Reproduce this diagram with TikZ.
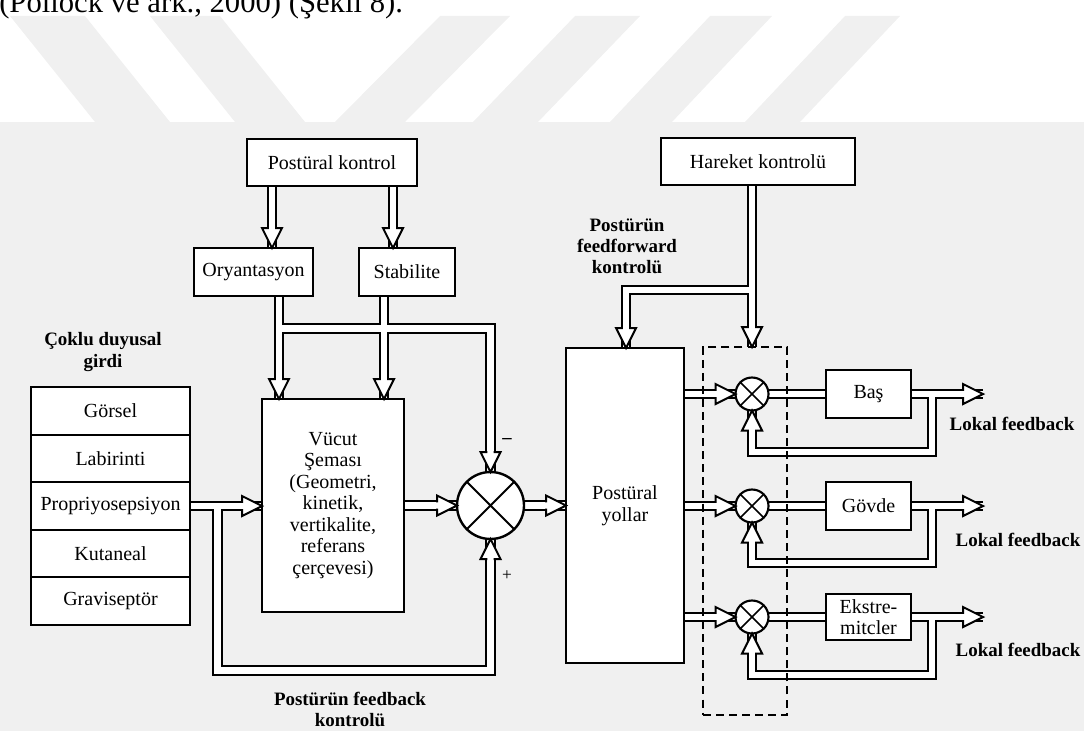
\documentclass[tikz,border=0pt]{standalone}
\usepackage{fontspec}
\setmainfont{Liberation Serif}
\pgfdeclarelayer{bg}
\pgfdeclarelayer{so}
\pgfdeclarelayer{si}
\pgfdeclarelayer{front}
\pgfsetlayers{bg,so,si,main,front}
\newcommand\hhead[2]{\filldraw[headst, shift={#1}, rotate=#2] (-15pt,2.4pt) -- (-15pt,7.5pt) -- (0pt,0pt) -- (-15pt,-7.5pt) -- (-15pt,-2.4pt);}
\newcommand\allshafts{%
  \draw[sh] (xa |- pk.south) -- (xa |- ory.north);
  \draw[sh] (xb |- pk.south) -- (xb |- stab.north);
  \draw[sh] (xc |- ory.south) -- (xc |- vuc.north);
  \draw[sh] (xd |- stab.south) -- (xd |- vuc.north);
  \draw[sh] (xc |- ybus) -- (cmp.center |- ybus) -- (cmp.north);
  \draw[sh] (vuc.east) -- (cmp.west);
  \draw[sh] (cmp.east) -- (cmp.east -| yol.west);
  \draw[sh] (prop.east) -- (prop.east -| vuc.west);
  \draw[sh] (xfb |- prop.east) -- (xfb |- yfb) -- (cmp.center |- yfb) -- (cmp.south);
  \draw[sh] (xhk |- hk.south) -- (xhk |- dbox.north);
  \draw[sh] (xhk |- yhk) -- (xyl |- yhk) -- (xyl |- yol.north);
  \draw[sh] (yol.east |- c1) -- (c1.west);
  \draw[sh] (yol.east |- c2) -- (c2.west);
  \draw[sh] (yol.east |- c3) -- (c3.west);
  \draw[sh] (c1.east) -- (bas.west);
  \draw[sh] (c2.east) -- (gov.west);
  \draw[sh] (c3.east) -- (eks.west);
  \draw[sh] (bas.east) -- (o1);
  \draw[sh] (gov.east) -- (o2);
  \draw[sh] (eks.east) -- (o3);
  \draw[sh] (xL |- c1) -- ++(0,58) -| (c1.south);
  \draw[sh] (xL |- c2) -- ++(0,57) -| (c2.south);
  \draw[sh] (xL |- c3) -- ++(0,58) -| (c3.south);
}
\begin{document}
\begin{tikzpicture}[x=0.75pt,y=-0.75pt,
  box/.style={draw, line width=1.6pt, fill=white, inner sep=0pt, outer sep=0pt, align=center, font=\fontsize{15}{16.1}\selectfont},
  lbl/.style={inner sep=0pt, align=center, font=\bfseries\fontsize{14.2}{15.8}\selectfont},
  cmpst/.style={circle, draw, line width=1.6pt, fill=white, inner sep=0pt, outer sep=0pt},
  sh/.style={},
  headst/.style={line width=1.5pt, fill=white, draw=black, line join=miter},
  wm/.style={fill=black!6},
  xline/.style={line width=1.4pt},
]
\useasboundingbox (0,0) rectangle (1084,731);
% helper coordinates
\coordinate (xa) at (272,0);
\coordinate (xb) at (393,0);
\coordinate (xc) at (279,0);
\coordinate (xd) at (384,0);
\coordinate (ybus) at (0,328.5);
\coordinate (xfb) at (217.5,0);
\coordinate (yfb) at (0,670.5);
\coordinate (xhk) at (752,0);
\coordinate (yhk) at (0,290);
\coordinate (xyl) at (626,0);
\coordinate (xL) at (932,0);
\coordinate (o1) at (983,394);
\coordinate (o2) at (983,506);
\coordinate (o3) at (983,617);
% title
\node[anchor=base west, inner sep=0pt, font=\fontsize{23}{23}\selectfont] (title) at (-1,13) {(Pollock ve ark., 2000) (Şekil 8).};
% boxes
\node[box, minimum width=170*0.75pt, minimum height=47*0.75pt] (pk) at (332,162.5) {Postüral kontrol};
\node[box, minimum width=119*0.75pt, minimum height=48*0.75pt] (ory) at (253.5,272) {Oryantasyon};
\node[box, minimum width=96*0.75pt, minimum height=48*0.75pt] (stab) at (407,272) {Stabilite};
\node[box, minimum width=142*0.75pt, minimum height=213*0.75pt] (vuc) at (333,505.5) {Vücut\\Şeması\\(Geometri,\\kinetik,\\vertikalite,\\referans\\çerçevesi)};
\node[box, minimum width=159*0.75pt, minimum height=47.6*0.75pt] (gor) at (110.5,410.8) {Görsel};
\node[box, minimum width=159*0.75pt, minimum height=47.6*0.75pt] (lab) at (110.5,458.4) {Labirinti};
\node[box, minimum width=159*0.75pt, minimum height=47.6*0.75pt] (prop) at (110.5,506) {Propriyosepsiyon};
\node[box, minimum width=159*0.75pt, minimum height=47.6*0.75pt] (kut) at (110.5,553.6) {Kutaneal};
\node[box, minimum width=159*0.75pt, minimum height=47.6*0.75pt] (grav) at (110.5,601.2) {Graviseptör};
\node[cmpst, minimum size=67*0.75pt, line width=1.8pt] (cmp) at (490.5,505.5) {};
\node[box, minimum width=118*0.75pt, minimum height=315*0.75pt] (yol) at (625,505.5) {Postüral\\yollar};
\node[box, minimum width=194*0.75pt, minimum height=47*0.75pt] (hk) at (758,161.5) {Hareket kontrolü};
\node[draw, line width=1.5pt, dash pattern=on 6pt off 3.8pt, inner sep=0pt, outer sep=0pt, minimum width=84*0.75pt, minimum height=368*0.75pt] (dbox) at (745,531) {};
\node[cmpst, minimum size=33*0.75pt] (c1) at (752,394) {};
\node[cmpst, minimum size=33*0.75pt] (c2) at (752,506) {};
\node[cmpst, minimum size=33*0.75pt] (c3) at (752,617) {};
\node[box, minimum width=85*0.75pt, minimum height=48*0.75pt] (bas) at (868.5,394) {Baş};
\node[box, minimum width=85*0.75pt, minimum height=48*0.75pt] (gov) at (868.5,506) {Gövde};
\node[box, minimum width=85*0.75pt, minimum height=46*0.75pt] (eks) at (868.5,617) {Ekstre-\\mitcler};
% crosses in comparators
\draw[xline] (cmp.45) -- (cmp.225) (cmp.135) -- (cmp.315);
\draw[xline, line width=1.2pt] (c1.45) -- (c1.225) (c1.135) -- (c1.315);
\draw[xline, line width=1.2pt] (c2.45) -- (c2.225) (c2.135) -- (c2.315);
\draw[xline, line width=1.2pt] (c3.45) -- (c3.225) (c3.135) -- (c3.315);
% labels
\node[lbl] (coklu) at (103,352) {Çoklu duyusal\\girdi};
\node[lbl] (fbk) at (350,709) {Postürün feedback\\kontrolü};
\node[lbl] (ffw) at (627,246) {Postürün\\feedforward\\kontrolü};
\node[lbl] (lf1) at (1012,424) {Lokal feedback};
\node[lbl] (lf2) at (1018,540) {Lokal feedback};
\node[lbl] (lf3) at (1018,650) {Lokal feedback};
\node[inner sep=0pt, font=\bfseries\fontsize{14}{14}\selectfont] (minus) at (507,441) {–};
\node[inner sep=0pt, font=\fontsize{13}{13}\selectfont] (plus) at (507,576) {+};
% background
\begin{pgfonlayer}{bg}
\fill[wm] (10,16) -- (85,16) -- (170,122) -- (95,122) -- cycle;
\fill[wm] (150,16) -- (220,16) -- (305,122) -- (235,122) -- cycle;
\fill[wm] (440,16) -- (510,16) -- (405,122) -- (335,122) -- cycle;
\fill[wm] (575,16) -- (640,16) -- (538,122) -- (473,122) -- cycle;
\fill[wm] (710,16) -- (772,16) -- (672,122) -- (610,122) -- cycle;
\fill[wm] (845,16) -- (900,16) -- (800,122) -- (745,122) -- cycle;
\fill[black!6] (0,122) rectangle (1084,731);
\end{pgfonlayer}
% shafts
\begin{pgfonlayer}{so}
\begin{scope}[sh/.style={line width=7.7pt, draw=black}]
\allshafts
\end{scope}
\end{pgfonlayer}
\begin{pgfonlayer}{si}
\begin{scope}[sh/.style={line width=4.7pt, draw=white}]
\allshafts
\end{scope}
\end{pgfonlayer}
% heads
\begin{pgfonlayer}{front}
\hhead{(xa |- ory.north)}{-90}
\hhead{(xb |- stab.north)}{-90}
\hhead{(xc |- vuc.north)}{-90}
\hhead{(xd |- vuc.north)}{-90}
\hhead{(cmp.north)}{-90}
\hhead{(cmp.west)}{0}
\hhead{(cmp.east -| yol.west)}{0}
\hhead{(prop.east -| vuc.west)}{0}
\hhead{(cmp.south)}{90}
\hhead{(xhk |- dbox.north)}{-90}
\hhead{(xyl |- yol.north)}{-90}
\hhead{(c1.west)}{0}
\hhead{(c2.west)}{0}
\hhead{(c3.west)}{0}
\hhead{(o1)}{0}
\hhead{(o2)}{0}
\hhead{(o3)}{0}
\hhead{(c1.south)}{90}
\hhead{(c2.south)}{90}
\hhead{(c3.south)}{90}
\end{pgfonlayer}
\end{tikzpicture}
\end{document}
